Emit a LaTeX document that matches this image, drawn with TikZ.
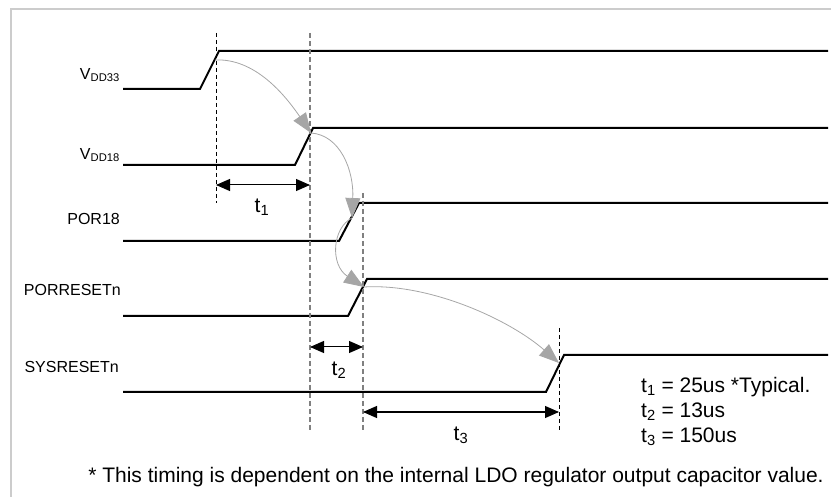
\documentclass[tikz,border=0pt]{standalone}
\usepackage{fontspec}
\setmainfont{Liberation Sans}
\usetikzlibrary{arrows.meta}

\begin{document}
\begin{tikzpicture}[x=1pt,y=-1pt,
          sig/.style={line width=2pt},
          lbl/.style={anchor=east,inner sep=0pt,font=\fontsize{16}{18}\selectfont},
          big/.style={inner sep=0pt,font=\fontsize{21}{24}\selectfont},
          guide/.style={dash pattern=on 5pt off 3pt,line width=1.3pt,gray},
          guidek/.style={dash pattern=on 4pt off 3pt,line width=0.8pt},
          dim/.style={{Triangle[length=14pt,width=12pt]}-{Triangle[length=14pt,width=12pt]},line width=1pt},
          flow/.style={-{Triangle[length=20pt,width=15pt]},gray!70,line width=0.8pt}]
        \useasboundingbox (0,0) rectangle (831,497);
        \draw[gray!40,line width=2.5pt] (11,497) -- (11,9) -- (831,9);
        % signal names
        \node[lbl] (vdd33) at (120,75) {V\textsubscript{DD33}};
        \node[lbl] (vdd18) at (120,155) {V\textsubscript{DD18}};
        \node[lbl] (por18) at (120,219) {POR18};
        \node[lbl] (porrst) at (121,290) {PORRESETn};
        \node[lbl] (sysrst) at (119,367) {SYSRESETn};
        % waveforms
        \draw[sig] (123,89) -- (200,89) -- (219,51) -- (828,51);
        \draw[sig] (123,165) -- (295,165) -- (313,128) -- (828,128);
        \draw[sig] (123,241) -- (339,241) -- (359,203) -- (828,203);
        \draw[sig] (123,316) -- (348,316) -- (367,279) -- (828,279);
        \draw[sig] (123,392) -- (546,392) -- (564,355) -- (828,355);
        % timing marks
        \coordinate (m0t) at (216,33);  \coordinate (m0b) at (216,203);
        \coordinate (m1t) at (310,33);  \coordinate (m1b) at (310,431);
        \coordinate (m2t) at (363,193); \coordinate (m2b) at (363,431);
        \coordinate (m3t) at (559,328); \coordinate (m3b) at (559,431);
        \draw[guidek] (m0t) -- (m0b);
        \draw[guide] (m1t) -- (m1b);
        \draw[guide] (m2t) -- (m2b);
        \draw[guidek] (m3t) -- (m3b);
        % dependencies
        \coordinate (e33) at (215,60);
        \coordinate (e18) at (311,133);
        \coordinate (epor) at (352,218);
        \coordinate (eprn) at (364,287);
        \coordinate (esys) at (559,363);
        \draw[flow] (e33) .. controls (255,58) and (285,95) .. (e18);
        \draw[flow] (e18) .. controls (340,135) and (354,170) .. (epor);
        \draw[flow] (epor) .. controls (332,228) and (330,265) .. (eprn);
        \draw[flow] (eprn) .. controls (430,283) and (510,320) .. (esys);
        % intervals
        \coordinate (t1a) at (216,185); \coordinate (t1b) at (310,185);
        \coordinate (t2a) at (310,347); \coordinate (t2b) at (363,347);
        \coordinate (t3a) at (363,412); \coordinate (t3b) at (559,412);
        \draw[dim] (t1a) -- (t1b);
        \draw[dim] (t2a) -- (t2b);
        \draw[dim] (t3a) -- (t3b);
        \node[big] (t1) at (262,207) {t\textsubscript{1}};
        \node[big] (t2) at (339,370) {t\textsubscript{2}};
        \node[big] (t3) at (461,435) {t\textsubscript{3}};
        % values
        \node[big,anchor=west] (v1) at (641,387) {t\textsubscript{1} = 25us *Typical.};
        \node[big,anchor=west] (v2) at (641,412) {t\textsubscript{2} = 13us};
        \node[big,anchor=west] (v3) at (641,437) {t\textsubscript{3} = 150us};
        \node[big] (note) at (456,477) {* This timing is dependent on the internal LDO regulator output capacitor value.};
      \end{tikzpicture}
\end{document}
